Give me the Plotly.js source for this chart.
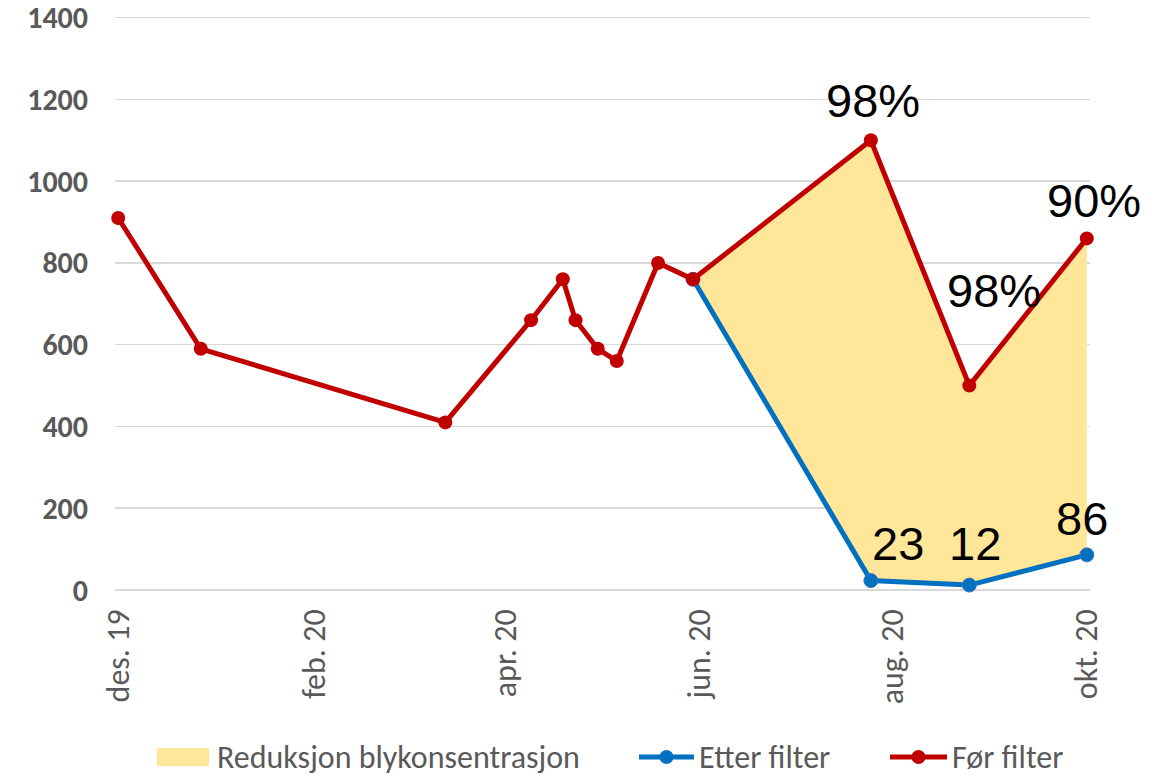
<!DOCTYPE html>
<html>
<head>
<meta charset="utf-8">
<script src="https://cdn.plot.ly/plotly-3.0.1.min.js"></script>
<style>html,body{margin:0;padding:0;background:#fff;}#chart{width:1175px;height:777px;}</style>
</head>
<body>
<div id="chart"></div>
<script>
// ---- data ----
var redDates = ['2019-12-01','2019-12-27','2020-03-13','2020-04-09','2020-04-19','2020-04-23','2020-04-30','2020-05-06','2020-05-19','2020-05-30','2020-07-25','2020-08-25','2020-10-01'];
var redValues = [910, 590, 410, 660, 760, 660, 590, 560, 800, 760, 1100, 500, 860];
var blueDates = ['2020-05-30','2020-07-25','2020-08-25','2020-10-01'];
var blueValues = [760, 23, 12, 86];
var redLabelIdx = [10, 11, 12];
var redLabels = ['98%', '98%', '90%'];
var blueLabelIdx = [1, 2, 3];
var blueLabels = ['23', '12', '86'];
var tickDates = ['2019-12-01','2020-02-01','2020-04-01','2020-06-01','2020-08-01','2020-10-01'];
var tickLabels = ['des. 19','feb. 20','apr. 20','jun. 20','aug. 20','okt. 20'];
var yTicks = [0, 200, 400, 600, 800, 1000, 1200, 1400];
var names = ['Reduksjon blykonsentrasjon', 'Etter filter', 'Før filter'];

// ---- styling ----
var W = 1175, H = 777, M = {l: 115, r: 85, t: 16, b: 187};
var colors = {fill: '#FFE699', blue: '#0070C0', red: '#C00000', text: '#595959'};
var redLabelShift = [[2, 40], [25, 95], [7, 38]];
var blueLabelShift = [[27, 37], [6, 42], [-5, 36]];
var uiFont = 'Carlito, Liberation Sans, Arial, sans-serif';
// legend layout in page pixels: [symbolStart, symbolEnd, textStart]
var legendPos = [[157, 209, 215], [639, 694, 697], [890, 947, 950]];
var legendY = 757;

var pw = W - M.l - M.r, ph = H - M.t - M.b;
function px2x(px){ return (px - M.l) / pw; }
function px2y(py){ return (H - M.b - py) / ph; }

var start = redDates.indexOf(blueDates[0]);
var fillX = redDates.slice(start).concat(blueDates.slice().reverse());
var fillY = redValues.slice(start).concat(blueValues.slice().reverse());

var traces = [
  {x: fillX, y: fillY, type: 'scatter', mode: 'none', fill: 'toself',
   fillcolor: colors.fill, name: names[0], hoverinfo: 'skip', showlegend: false},
  {x: blueDates, y: blueValues, type: 'scatter', mode: 'lines+markers', name: names[1], cliponaxis: false, showlegend: false,
   line: {color: colors.blue, width: 5}, marker: {color: colors.blue, size: 14, line: {color: '#4472C4', width: 1}}},
  {x: redDates, y: redValues, type: 'scatter', mode: 'lines+markers', name: names[2], cliponaxis: false, showlegend: false,
   line: {color: colors.red, width: 5}, marker: {color: colors.red, size: 14}}
];

var annotations = [];
var labFont = {family: 'Liberation Sans, Arial, sans-serif', size: 47, color: '#000'};
redLabelIdx.forEach(function(i, k){
  annotations.push({x: redDates[i], y: redValues[i], xref: 'x', yref: 'y', text: redLabels[k],
    showarrow: false, xanchor: 'center', yanchor: 'middle',
    xshift: redLabelShift[k][0], yshift: redLabelShift[k][1], font: labFont});
});
blueLabelIdx.forEach(function(i, k){
  annotations.push({x: blueDates[i], y: blueValues[i], xref: 'x', yref: 'y', text: blueLabels[k],
    showarrow: false, xanchor: 'center', yanchor: 'middle',
    xshift: blueLabelShift[k][0], yshift: blueLabelShift[k][1], font: labFont});
});

// hand-built legend (Excel style)
var shapes = [];
var legColors = [colors.fill, colors.blue, colors.red];
names.forEach(function(nm, k){
  var p = legendPos[k];
  if (k === 0) {
    shapes.push({type: 'rect', xref: 'paper', yref: 'paper', x0: px2x(p[0]), x1: px2x(p[1]),
      y0: px2y(legendY + 9), y1: px2y(legendY - 9), fillcolor: legColors[k], line: {width: 0}});
  } else {
    shapes.push({type: 'line', xref: 'paper', yref: 'paper', x0: px2x(p[0]), x1: px2x(p[1]),
      y0: px2y(legendY), y1: px2y(legendY), line: {color: legColors[k], width: 5}});
    shapes.push({type: 'circle', xref: 'paper', yref: 'paper', xsizemode: 'pixel', ysizemode: 'pixel',
      xanchor: px2x((p[0] + p[1]) / 2), yanchor: px2y(legendY), x0: -7, x1: 7, y0: -7, y1: 7,
      fillcolor: legColors[k], line: {color: legColors[k], width: 0}});
  }
  annotations.push({xref: 'paper', yref: 'paper', x: px2x(p[2]), y: px2y(legendY), text: nm,
    showarrow: false, xanchor: 'left', yanchor: 'middle',
    font: {family: uiFont, size: 32, color: colors.text}});
});

var layout = {
  width: W, height: H,
  margin: M,
  paper_bgcolor: '#fff', plot_bgcolor: '#fff',
  showlegend: false,
  xaxis: {type: 'date', range: ['2019-11-30', '2020-10-02'],
    tickmode: 'array', tickvals: tickDates, ticktext: tickLabels, tickangle: -90,
    showgrid: false, zeroline: false, showline: false, ticks: '',
    ticklabelstandoff: 12,
    tickfont: {family: uiFont, size: 32, color: colors.text}},
  yaxis: {range: [0, 1404], tickmode: 'array', tickvals: yTicks, ticklabeloverflow: 'allow',
    showgrid: true, gridcolor: '#D9D9D9', gridwidth: 1.5,
    zeroline: true, zerolinecolor: '#D9D9D9', zerolinewidth: 1.5, showline: false, ticks: '',
    ticklabelstandoff: 26,
    tickfont: {family: uiFont, size: 30, color: colors.text, weight: 'bold'}},
  annotations: annotations,
  shapes: shapes
};

Plotly.newPlot('chart', traces, layout, {displayModeBar: false, staticPlot: true});
</script>
</body>
</html>
